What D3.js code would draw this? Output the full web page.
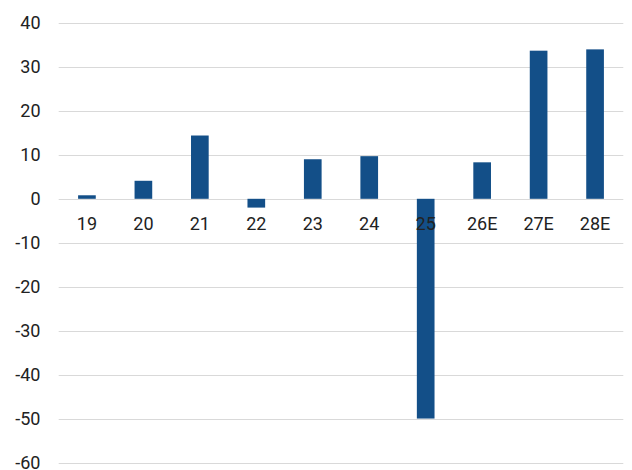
<!DOCTYPE html>
<html>
<head>
<meta charset="utf-8">
<script src="https://cdn.jsdelivr.net/npm/d3@7"></script>
<style>
  html, body { margin: 0; padding: 0; background: #fff; }
  svg { display: block; }
  text { font-family: Roboto, "Noto Sans", sans-serif; }
</style>
</head>
<body>
<script>
const categories = ["19", "20", "21", "22", "23", "24", "25", "26E", "27E", "28E"];
const values = [0.8, 4.1, 14.4, -2.0, 9.0, 9.7, -50.0, 8.3, 33.7, 34.0];
const yTicks = [40, 30, 20, 10, 0, -10, -20, -30, -40, -50, -60];

(function () {
const W = 632, H = 470;
const mLeft = 58.7, mRight = 623.3, mTop = 23, mBottom = 462.5;

const svg = d3.select("body").append("svg").attr("width", W).attr("height", H);

const x = d3.scaleBand().domain(categories).range([mLeft, mRight])
  .paddingInner(0.687).paddingOuter(0.687 / 2);
const y = d3.scaleLinear().domain([-60, 40]).range([mBottom, mTop]);

// gridlines
svg.append("g").selectAll("line").data(yTicks).join("line")
  .attr("x1", mLeft).attr("x2", mRight)
  .attr("y1", d => Math.round(y(d)) + 0.5).attr("y2", d => Math.round(y(d)) + 0.5)
  .attr("stroke", "#d9d9d9").attr("stroke-width", 1);

// y labels
svg.append("g").selectAll("text").data(yTicks).join("text")
  .attr("x", 40.5).attr("y", d => y(d))
  .attr("dy", "0.36em")
  .attr("text-anchor", "end")
  .attr("font-size", 18)
  .attr("fill", "#222")
  .text(d => d);

// bars
svg.append("g").selectAll("rect").data(values).join("rect")
  .attr("x", (d, i) => x(categories[i]))
  .attr("width", x.bandwidth())
  .attr("y", d => y(Math.max(0, d)))
  .attr("height", d => Math.abs(y(d) - y(0)))
  .attr("fill", "#134f88");

// x labels
svg.append("g").selectAll("text").data(categories).join("text")
  .attr("x", d => x(d) + x.bandwidth() / 2)
  .attr("y", y(0) + 25)
  .attr("dy", "0.36em")
  .attr("text-anchor", "middle")
  .attr("font-size", 18)
  .attr("fill", "#222")
  .text(d => d);
})();
</script>
</body>
</html>
